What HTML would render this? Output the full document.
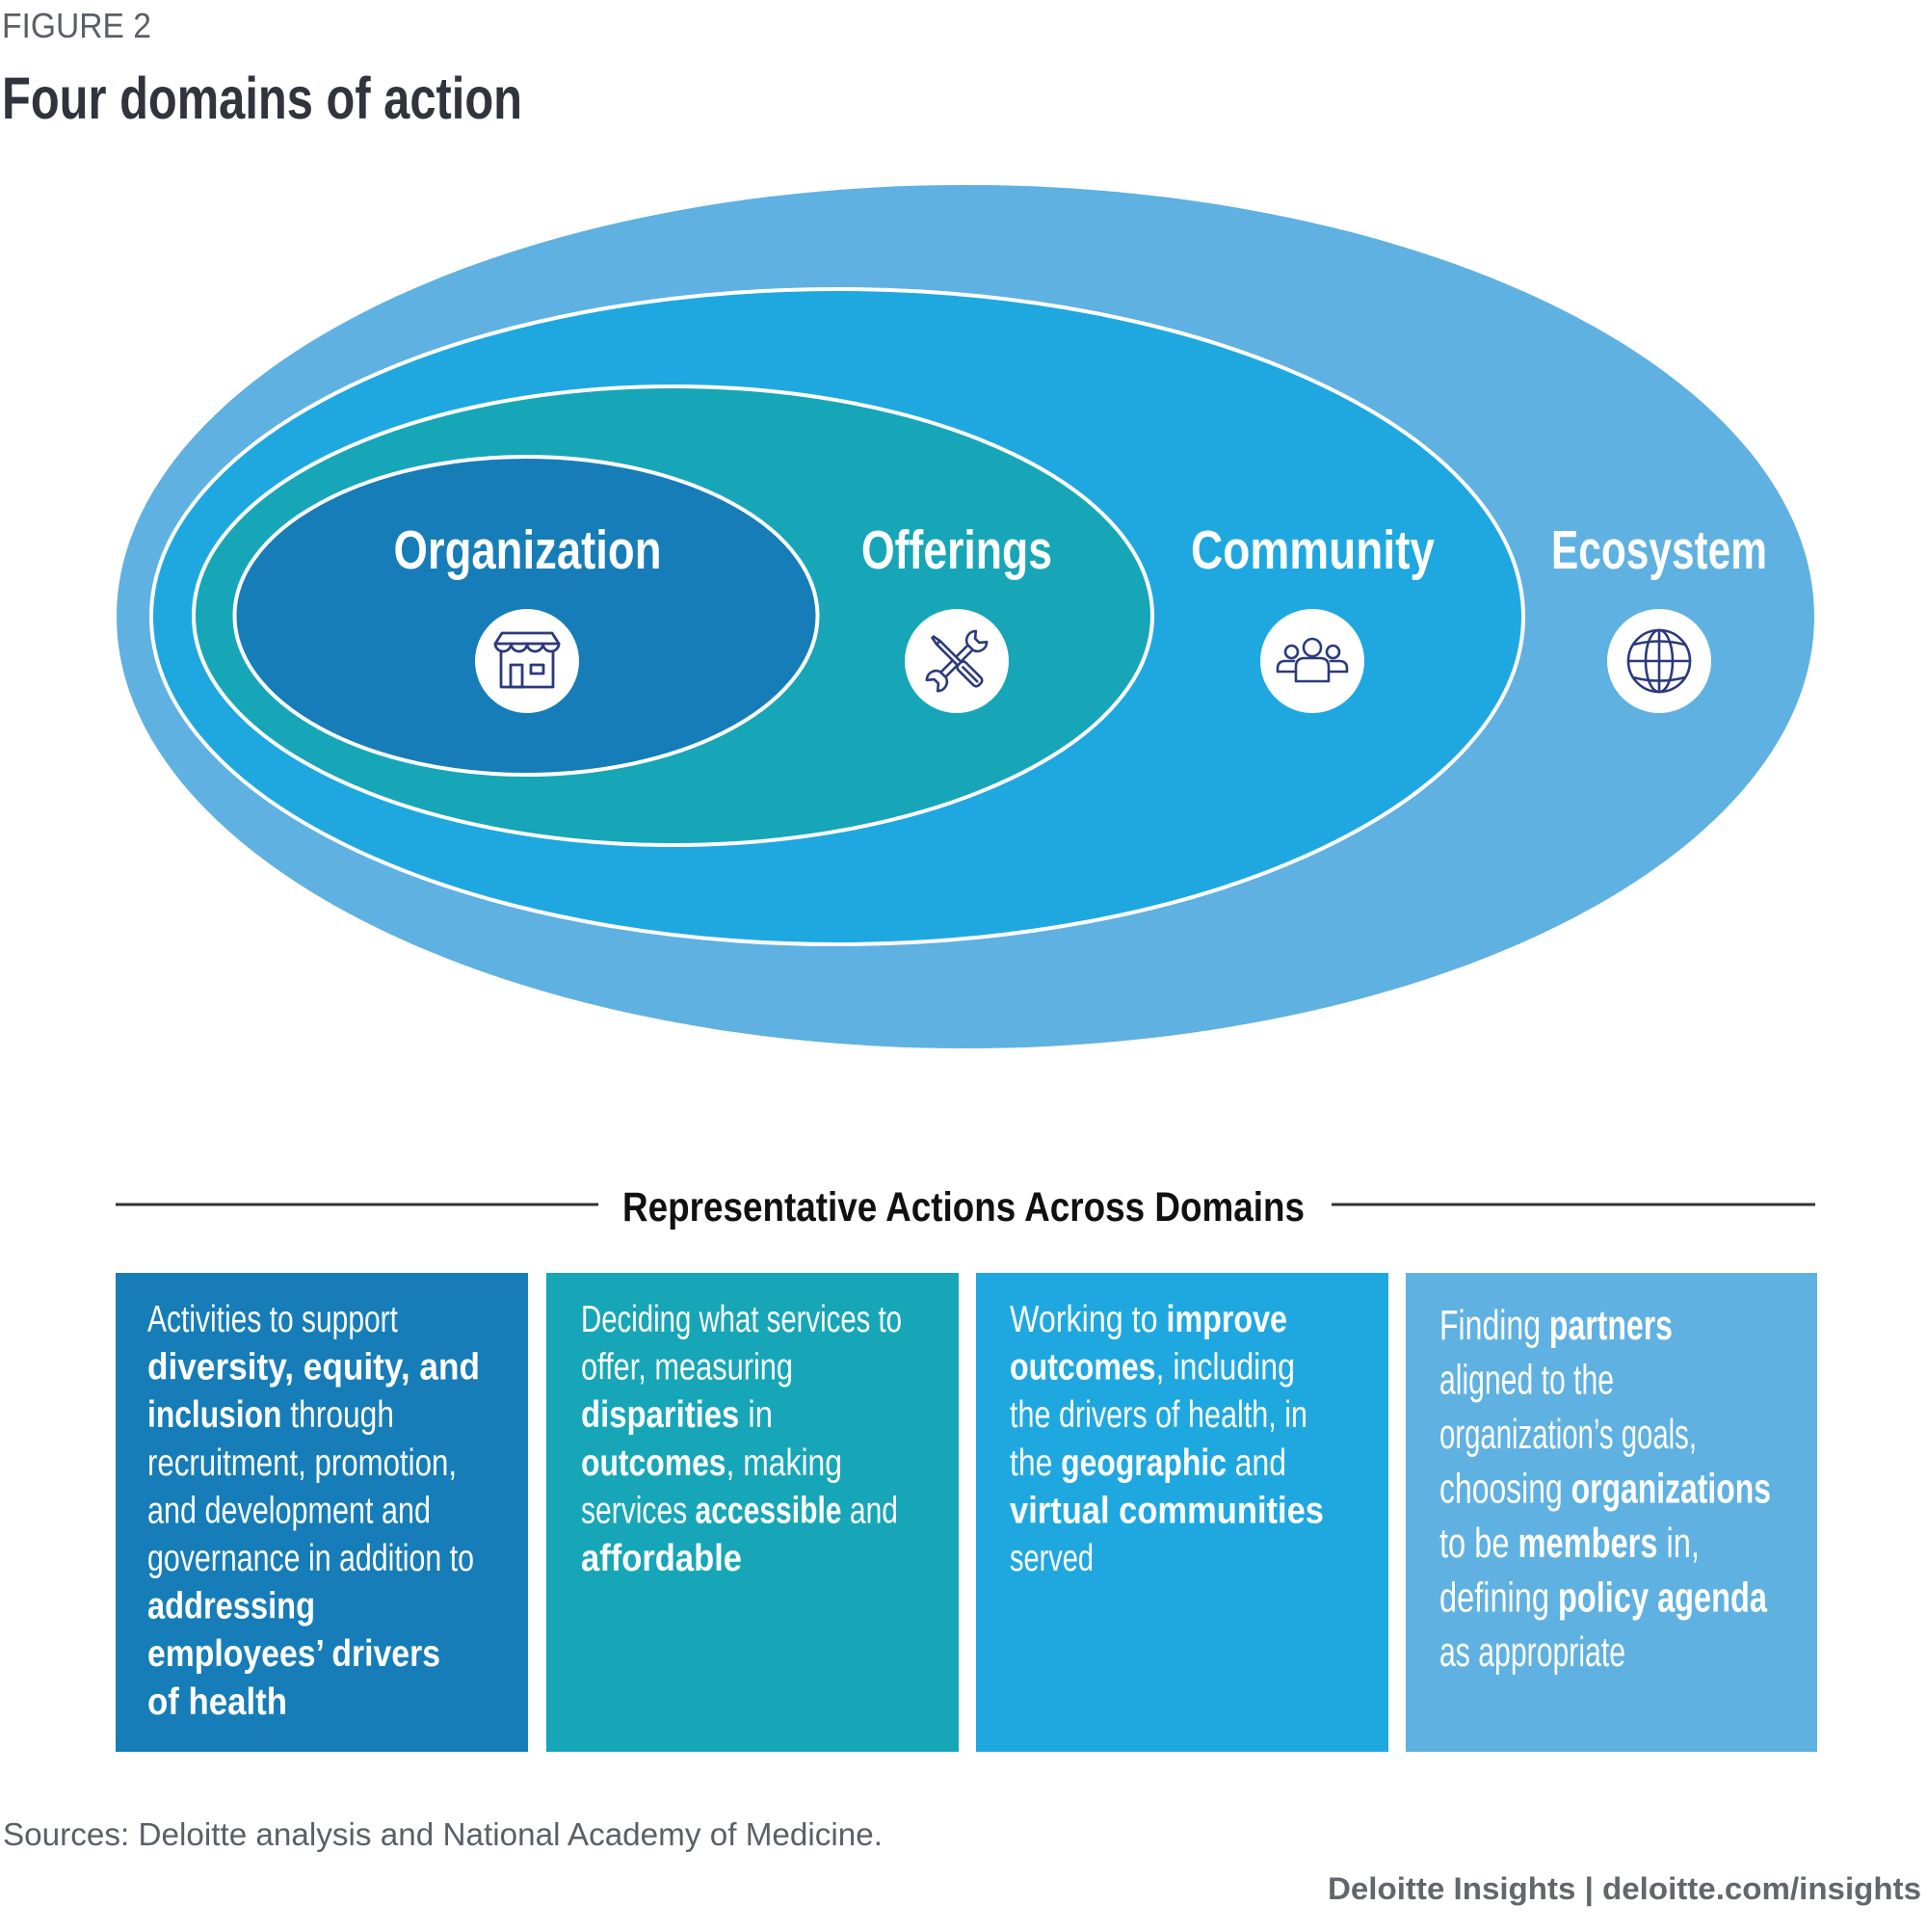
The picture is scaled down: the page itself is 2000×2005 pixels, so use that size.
<!DOCTYPE html>
<html>
<head>
<meta charset="utf-8">
<style>
html,body{margin:0;padding:0;background:#ffffff;}
svg{display:block;}
</style>
</head>
<body>
<svg width="2000" height="2005" viewBox="0 0 2000 2005" xmlns="http://www.w3.org/2000/svg" font-family="'Liberation Sans', Arial, sans-serif">
  <rect x="0" y="0" width="2000" height="2005" fill="#ffffff"/>

  <!-- Header -->
  <text x="2" y="39" font-size="36" fill="#5b5f66" textLength="155" lengthAdjust="spacingAndGlyphs">FIGURE 2</text>
  <text x="2" y="123" font-size="61" font-weight="bold" fill="#30343c" textLength="540" lengthAdjust="spacingAndGlyphs">Four domains of action</text>

  <!-- Ellipses -->
  <ellipse cx="1002" cy="640" rx="881" ry="448" fill="#5fb1e1"/>
  <ellipse cx="869" cy="640" rx="712" ry="340" fill="#1fa8e0" stroke="#ffffff" stroke-width="4"/>
  <ellipse cx="698.5" cy="639" rx="497.5" ry="238" fill="#17a6b8" stroke="#ffffff" stroke-width="4"/>
  <ellipse cx="546" cy="639" rx="302.5" ry="165" fill="#167db8" stroke="#ffffff" stroke-width="4"/>

  <!-- Labels -->
  <g font-size="57" font-weight="bold" fill="#ffffff">
    <text x="408.5" y="590" textLength="278" lengthAdjust="spacingAndGlyphs">Organization</text>
    <text x="894" y="590" textLength="198" lengthAdjust="spacingAndGlyphs">Offerings</text>
    <text x="1236" y="590" textLength="253" lengthAdjust="spacingAndGlyphs">Community</text>
    <text x="1610" y="590" textLength="224" lengthAdjust="spacingAndGlyphs">Ecosystem</text>
  </g>

  <!-- Icon circles -->
  <g fill="#ffffff">
    <circle cx="547" cy="686" r="54"/>
    <circle cx="993" cy="686" r="54"/>
    <circle cx="1362" cy="686" r="54"/>
    <circle cx="1722" cy="686" r="54"/>
  </g>

  <!-- Store icon -->
  <g transform="translate(547,686)" fill="none" stroke="#2b3a7c" stroke-width="2.8" stroke-linejoin="round" stroke-linecap="round">
    <path d="M-26,-29 H26 L33,-18 H-33 Z"/>
    <path d="M-33,-18 a8.25,8 0 0 0 16.5,0 a8.25,8 0 0 0 16.5,0 a8.25,8 0 0 0 16.5,0 a8.25,8 0 0 0 16.5,0"/>
    <path d="M-27,-9 V27 H27 V-9"/>
    <rect x="-17" y="4" width="12" height="23"/>
    <rect x="4" y="4" width="13" height="9"/>
  </g>

  <!-- Tools icon -->
  <g transform="translate(993,686)" fill="#ffffff" stroke="#2b3a7c" stroke-width="2.6" stroke-linejoin="round" stroke-linecap="round">
    <g transform="rotate(-45)">
      <rect x="-21" y="-3.5" width="42" height="7"/>
      <path d="M20,-4 C22,-11 31,-13 36,-8 L30,-3 L30,3 L36,8 C31,13 22,11 20,4 Z"/>
      <path d="M-20,-4 C-22,-11 -31,-13 -36,-8 L-30,-3 L-30,3 L-36,8 C-31,13 -22,11 -20,4 Z"/>
    </g>
    <g transform="rotate(45)">
      <path d="M-35,-1 L-27,-2.5 V2.5 L-35,1 Z"/>
      <rect x="-27" y="-2.5" width="31" height="5"/>
      <rect x="4" y="-5.5" width="30" height="11" rx="4"/>
      <line x1="9" y1="0" x2="30" y2="0"/>
    </g>
  </g>

  <!-- People icon -->
  <g transform="translate(1362,686)" fill="#ffffff" stroke="#2b3a7c" stroke-width="2.6" stroke-linejoin="round" stroke-linecap="round">
    <path d="M-19,0 H-28 Q-36,0 -36,8 V11 H-17"/>
    <circle cx="-21.5" cy="-9.5" r="6.5"/>
    <path d="M19,0 H28 Q36,0 36,8 V11 H17"/>
    <circle cx="21.5" cy="-9.5" r="6.5"/>
    <path d="M-17,21 V6 Q-17,-3 -8,-3 H8 Q17,-3 17,6 V21 Z"/>
    <circle cx="0" cy="-14" r="9"/>
  </g>

  <!-- Globe icon -->
  <g transform="translate(1722,686)" fill="none" stroke="#2b3a7c" stroke-width="2.6" stroke-linecap="round">
    <circle r="32"/>
    <ellipse rx="14" ry="32"/>
    <line x1="0" y1="-32" x2="0" y2="32"/>
    <line x1="-32" y1="0" x2="32" y2="0"/>
    <path d="M-27,-17 Q0,-24 27,-17"/>
    <path d="M-27,17 Q0,24 27,17"/>
  </g>

  <!-- Section header -->
  <line x1="120" y1="1250" x2="621" y2="1250" stroke="#333333" stroke-width="3"/>
  <line x1="1382" y1="1250" x2="1884" y2="1250" stroke="#333333" stroke-width="3"/>
  <text x="646" y="1267" font-size="43" font-weight="bold" fill="#111111" textLength="708" lengthAdjust="spacingAndGlyphs">Representative Actions Across Domains</text>

  <!-- Boxes -->
  <rect x="120" y="1321" width="428" height="497" fill="#167db8"/>
  <rect x="567" y="1321" width="428" height="497" fill="#17a6b8"/>
  <rect x="1013" y="1321" width="428" height="497" fill="#1fa8e0"/>
  <rect x="1459" y="1321" width="427" height="497" fill="#5fb1e1"/>

  <!-- Box 1 text -->
  <g font-size="38.5" fill="#ffffff">
    <text x="153" y="1382" textLength="260" lengthAdjust="spacingAndGlyphs">Activities to support</text>
    <text x="153" y="1431.6" font-weight="bold" textLength="345" lengthAdjust="spacingAndGlyphs">diversity, equity, and</text>
    <text x="153" y="1481.2" textLength="256" lengthAdjust="spacingAndGlyphs"><tspan font-weight="bold">inclusion</tspan> through</text>
    <text x="153" y="1530.8" textLength="321" lengthAdjust="spacingAndGlyphs">recruitment, promotion,</text>
    <text x="153" y="1580.4" textLength="294" lengthAdjust="spacingAndGlyphs">and development and</text>
    <text x="153" y="1630" textLength="339" lengthAdjust="spacingAndGlyphs">governance in addition to</text>
    <text x="153" y="1679.6" font-weight="bold" textLength="174" lengthAdjust="spacingAndGlyphs">addressing</text>
    <text x="153" y="1729.2" font-weight="bold" textLength="304" lengthAdjust="spacingAndGlyphs">employees’ drivers</text>
    <text x="153" y="1778.8" font-weight="bold" textLength="145" lengthAdjust="spacingAndGlyphs">of health</text>
  </g>

  <!-- Box 2 text -->
  <g font-size="38.5" fill="#ffffff">
    <text x="603" y="1382" textLength="333" lengthAdjust="spacingAndGlyphs">Deciding what services to</text>
    <text x="603" y="1431.6" textLength="220" lengthAdjust="spacingAndGlyphs">offer, measuring</text>
    <text x="603" y="1481.2" textLength="199" lengthAdjust="spacingAndGlyphs"><tspan font-weight="bold">disparities</tspan> in</text>
    <text x="603" y="1530.8" textLength="271" lengthAdjust="spacingAndGlyphs"><tspan font-weight="bold">outcomes</tspan>, making</text>
    <text x="603" y="1580.4" textLength="329" lengthAdjust="spacingAndGlyphs">services <tspan font-weight="bold">accessible</tspan> and</text>
    <text x="603" y="1630" font-weight="bold" textLength="167" lengthAdjust="spacingAndGlyphs">affordable</text>
  </g>

  <!-- Box 3 text -->
  <g font-size="38.5" fill="#ffffff">
    <text x="1048" y="1382" textLength="288" lengthAdjust="spacingAndGlyphs">Working to <tspan font-weight="bold">improve</tspan></text>
    <text x="1048" y="1431.6" textLength="296" lengthAdjust="spacingAndGlyphs"><tspan font-weight="bold">outcomes</tspan>, including</text>
    <text x="1048" y="1481.2" textLength="309" lengthAdjust="spacingAndGlyphs">the drivers of health, in</text>
    <text x="1048" y="1530.8" textLength="287" lengthAdjust="spacingAndGlyphs">the <tspan font-weight="bold">geographic</tspan> and</text>
    <text x="1048" y="1580.4" font-weight="bold" textLength="326" lengthAdjust="spacingAndGlyphs">virtual communities</text>
    <text x="1048" y="1630" textLength="87" lengthAdjust="spacingAndGlyphs">served</text>
  </g>

  <!-- Box 4 text -->
  <g font-size="44" fill="#ffffff">
    <text x="1494" y="1390" textLength="242" lengthAdjust="spacingAndGlyphs">Finding <tspan font-weight="bold">partners</tspan></text>
    <text x="1494" y="1446.5" textLength="181" lengthAdjust="spacingAndGlyphs">aligned to the</text>
    <text x="1494" y="1503" textLength="267" lengthAdjust="spacingAndGlyphs">organization’s goals,</text>
    <text x="1494" y="1559.5" textLength="344" lengthAdjust="spacingAndGlyphs">choosing <tspan font-weight="bold">organizations</tspan></text>
    <text x="1494" y="1616" textLength="270" lengthAdjust="spacingAndGlyphs">to be <tspan font-weight="bold">members</tspan> in,</text>
    <text x="1494" y="1672.5" textLength="340" lengthAdjust="spacingAndGlyphs">defining <tspan font-weight="bold">policy agenda</tspan></text>
    <text x="1494" y="1729" textLength="193" lengthAdjust="spacingAndGlyphs">as appropriate</text>
  </g>

  <!-- Footer -->
  <text x="3" y="1915" font-size="33" fill="#5b5f66" textLength="913" lengthAdjust="spacingAndGlyphs">Sources: Deloitte analysis and National Academy of Medicine.</text>
  <text x="1378" y="1971" font-size="32" font-weight="bold" fill="#63666b" textLength="616" lengthAdjust="spacingAndGlyphs">Deloitte Insights | deloitte.com/insights</text>
</svg>
</body>
</html>
